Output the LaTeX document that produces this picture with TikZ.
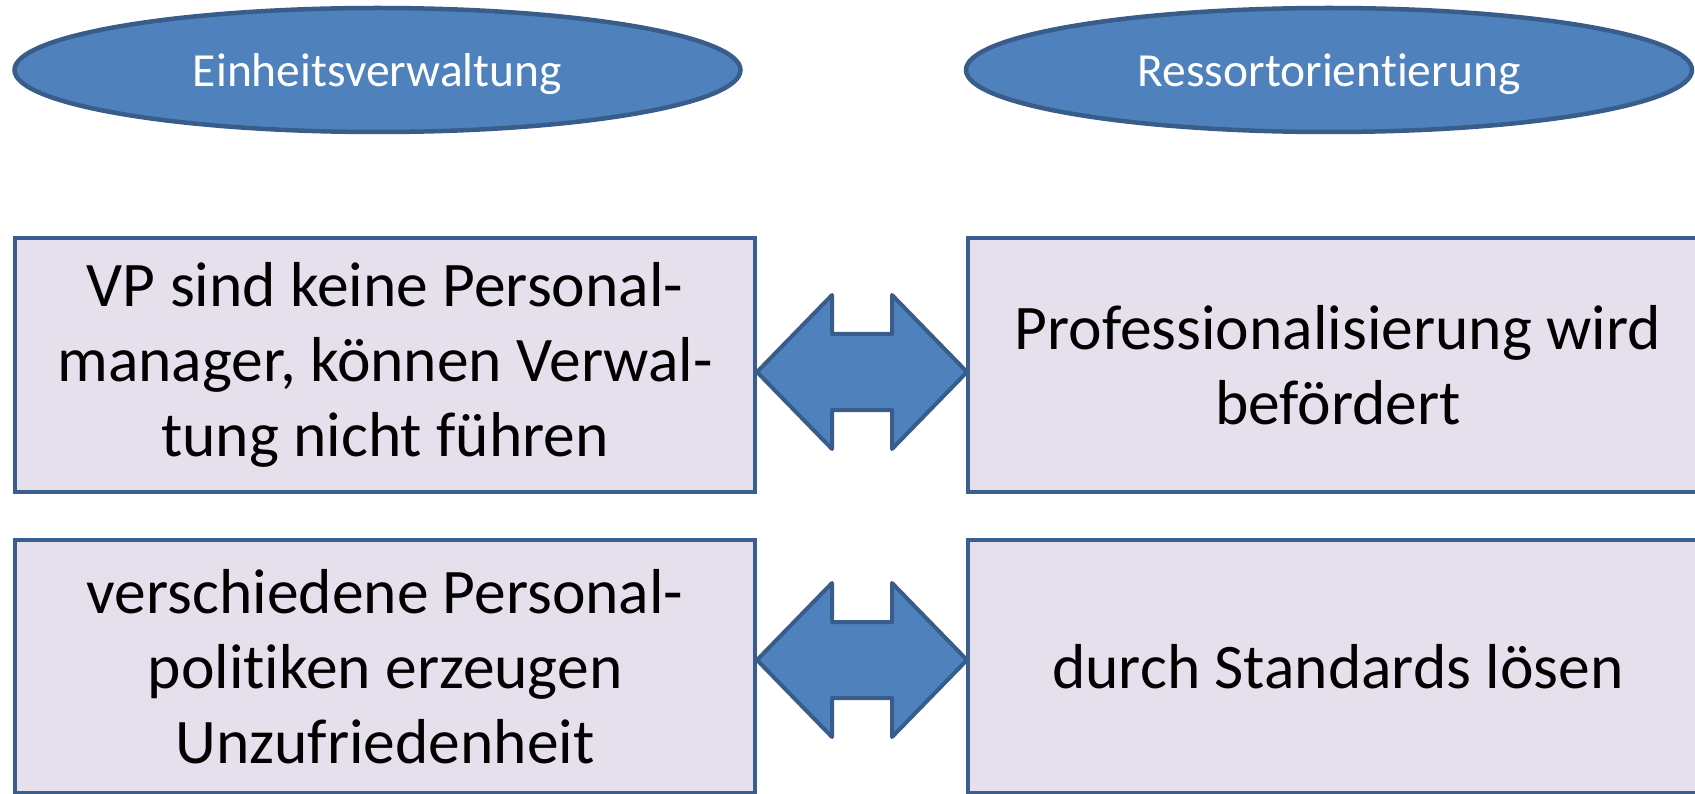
\documentclass[tikz,border=0pt]{standalone}
\usepackage{fontspec}
\setmainfont{Carlito}[Ligatures=NoCommon]
\usetikzlibrary{shapes.geometric}
\definecolor{ellfill}{HTML}{4F81BD}
\definecolor{ellline}{HTML}{385D8A}
\definecolor{boxfill}{HTML}{E5E0EC}
\definecolor{boxline}{HTML}{3A5F8E}
\newcommand{\lowertxt}[1]{\raisebox{-4pt}[\height][\depth]{#1}}
\begin{document}
\begin{tikzpicture}[x=1pt,y=-1pt,
  headell/.style={ellipse, draw=ellline, fill=ellfill, line width=4.5pt,
    minimum width=726pt, minimum height=124pt, inner sep=0pt, text=white,
    font=\fontsize{47.5}{57}\selectfont},
  txtbox/.style={rectangle, draw=boxline, fill=boxfill, line width=4pt,
    minimum width=740pt, minimum height=254pt, inner sep=0pt, align=center,
    font=\fontsize{63.5}{75}\selectfont},
  dblarrow/.style={draw=ellline, fill=ellfill, line width=4pt, line join=round}]
\useasboundingbox (0,0) rectangle (1695,794);
\clip (0,0) rectangle (1695,794);
\node[headell] (E1) at (377.5,70) {\lowertxt{Einheitsverwaltung}};
\node[headell] (E2) at (1329,70) {\lowertxt{Ressortorientierung}};
\node[txtbox] (L1) at (385,365) {VP sind keine Personal-\\manager, können Verwal-\\tung nicht führen};
\node[txtbox] (R1) at (1338,365) {Professionalisierung wird\\befördert};
\node[txtbox, minimum height=253pt] (L2) at (385,666.5) {verschiedene Personal-\\politiken erzeugen\\Unzufriedenheit};
\node[txtbox, minimum height=253pt] (R2) at (1338,666.5) {durch Standards lösen};
\draw[dblarrow] ([yshift=-7pt]L1.east) -- ++(75,-77) -- ++(0,39) -- ++(60,0) -- ++(0,-39)
  -- ++(75,77) -- ++(-75,77) -- ++(0,-39) -- ++(-60,0) -- ++(0,39) -- cycle;
\draw[dblarrow] ([yshift=6.5pt]L2.east) -- ++(75,-77) -- ++(0,39) -- ++(60,0) -- ++(0,-39)
  -- ++(75,77) -- ++(-75,77) -- ++(0,-39) -- ++(-60,0) -- ++(0,39) -- cycle;
\end{tikzpicture}
\end{document}
